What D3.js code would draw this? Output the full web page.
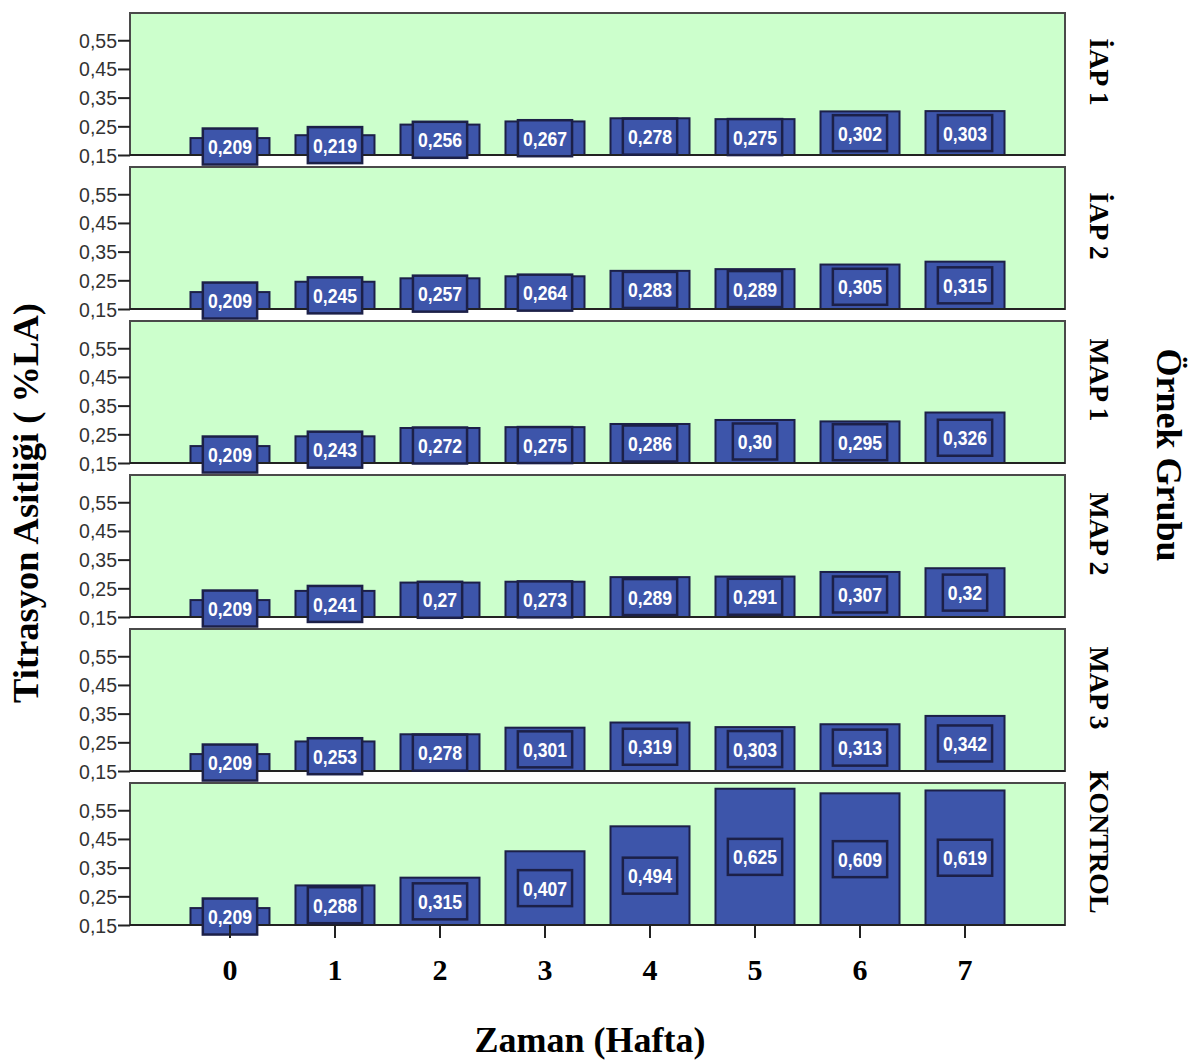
<!DOCTYPE html>
<html>
<head>
<meta charset="utf-8">
<script src="https://cdn.jsdelivr.net/npm/d3@7"></script>
<style>
  html, body { margin: 0; padding: 0; background: #ffffff; }
  svg { display: block; }
</style>
</head>
<body>
<div id="chart"></div>
<script>
// Weeks of storage (x categories)
const weeks = ["0", "1", "2", "3", "4", "5", "6", "7"];

// Sample groups, one panel each (top to bottom)
const groups = ["İAP 1", "İAP 2", "MAP 1", "MAP 2", "MAP 3", "KONTROL"];

// Titratable acidity (% LA) per week for each group
const iap1    = [0.209, 0.219, 0.256, 0.267, 0.278, 0.275, 0.302, 0.303];
const iap2    = [0.209, 0.245, 0.257, 0.264, 0.283, 0.289, 0.305, 0.315];
const map1    = [0.209, 0.243, 0.272, 0.275, 0.286, 0.300, 0.295, 0.326];
const map2    = [0.209, 0.241, 0.270, 0.273, 0.289, 0.291, 0.307, 0.320];
const map3    = [0.209, 0.253, 0.278, 0.301, 0.319, 0.303, 0.313, 0.342];
const kontrol = [0.209, 0.288, 0.315, 0.407, 0.494, 0.625, 0.609, 0.619];

const seriesByGroup = [iap1, iap2, map1, map2, map3, kontrol];

// Y axis tick values shared by all panels
const yTicks = [0.15, 0.25, 0.35, 0.45, 0.55];
const yMin = 0.15, yMax = 0.645;

const width = 1202, height = 1063;
const panelLeft = 130, panelRight = 1065;
const firstBase = 155, panelStep = 154, panelHeight = 142;

const C = {
  bg: "#ccffcc",
  bar: "#3d55aa",
  barStroke: "#1c2048",
  frame: "#4a4a4a",
  axis: "#222222"
};

const svg = d3.select("#chart").append("svg")
  .attr("width", width)
  .attr("height", height);

const x = d3.scaleBand()
  .domain(weeks)
  .range([panelLeft, panelRight])
  .paddingInner(0.2476)
  .paddingOuter(0.576);

// decimal comma, at least two decimals
const fmt = v => {
  let s = v.toFixed(3);
  if (s.endsWith("0")) s = s.slice(0, -1);
  return s.replace(".", ",");
};

const serif = "'Liberation Serif', 'Times New Roman', serif";
const sans = "'Liberation Sans', Arial, sans-serif";
const labelSqueeze = 0.84; // condensed look for the value labels

groups.forEach((g, gi) => {
  const base = firstBase + gi * panelStep;
  const top = base - panelHeight;
  const y = d3.scaleLinear().domain([yMin, yMax]).range([base, top]);
  const vals = seriesByGroup[gi];

  const panel = svg.append("g").attr("class", "panel");

  // panel background and frame
  panel.append("rect")
    .attr("x", panelLeft).attr("y", top)
    .attr("width", panelRight - panelLeft).attr("height", base - top)
    .attr("fill", C.bg)
    .attr("stroke", C.frame).attr("stroke-width", 2);

  // y axis
  const yAxis = d3.axisLeft(y)
    .tickValues(yTicks)
    .tickSize(12)
    .tickPadding(1)
    .tickFormat(d => d.toFixed(2).replace(".", ","));
  const ya = panel.append("g")
    .attr("transform", `translate(${panelLeft},0)`)
    .call(yAxis);
  ya.select(".domain").remove();
  ya.selectAll(".tick line").attr("stroke", C.axis).attr("stroke-width", 2);
  ya.selectAll(".tick text")
    .attr("fill", "#333")
    .style("font-family", sans)
    .style("font-size", "19.5px")
    .attr("dy", "0.36em");

  // bars
  panel.selectAll("rect.bar")
    .data(vals)
    .join("rect")
    .attr("class", "bar")
    .attr("x", (d, i) => x(weeks[i]))
    .attr("width", x.bandwidth())
    .attr("y", d => y(d))
    .attr("height", d => y(yMin) - y(d))
    .attr("fill", C.bar)
    .attr("stroke", C.barStroke)
    .attr("stroke-width", 2);

  // bottom baseline
  panel.append("line")
    .attr("x1", panelLeft).attr("x2", panelRight)
    .attr("y1", base).attr("y2", base)
    .attr("stroke", C.axis).attr("stroke-width", 2);

  // value labels in boxes centred on each bar
  const lab = panel.selectAll("g.lab")
    .data(vals)
    .join("g")
    .attr("class", "lab")
    .attr("transform", (d, i) =>
      `translate(${x(weeks[i]) + x.bandwidth() / 2},${(y(d) + y(yMin)) / 2})`);

  lab.append("text")
    .text(d => fmt(d))
    .attr("text-anchor", "middle")
    .attr("dy", "0.36em")
    .attr("transform", `scale(${labelSqueeze},1)`)
    .attr("fill", "#ffffff")
    .style("font-family", sans)
    .style("font-weight", "bold")
    .style("font-size", "21px");

  lab.each(function() {
    const gSel = d3.select(this);
    const bb = gSel.select("text").node().getBBox();
    const w = bb.width * labelSqueeze + 10;
    gSel.insert("rect", "text")
      .attr("x", -w / 2).attr("y", -18)
      .attr("width", w).attr("height", 36)
      .attr("fill", C.bar)
      .attr("stroke", C.barStroke)
      .attr("stroke-width", 2.5);
  });

  // group label on the right
  svg.append("text")
    .attr("transform", `translate(1090,${(top + base) / 2 - 12}) rotate(90)`)
    .attr("text-anchor", "middle")
    .attr("fill", "#000")
    .style("font-family", serif)
    .style("font-weight", "bold")
    .style("font-size", "28px")
    .text(g);

  // x axis under the last panel
  if (gi === groups.length - 1) {
    const xa = svg.append("g")
      .attr("transform", `translate(0,${base})`)
      .call(d3.axisBottom(x).tickSize(13).tickPadding(0));
    xa.select(".domain").remove();
    xa.selectAll(".tick line").attr("stroke", C.axis).attr("stroke-width", 2);
    xa.selectAll(".tick text")
      .attr("y", 55)
      .attr("dy", 0)
      .attr("fill", "#000")
      .style("font-family", serif)
      .style("font-weight", "bold")
      .style("font-size", "30px");
  }
});

// axis titles
svg.append("text")
  .attr("x", 590).attr("y", 1052)
  .attr("text-anchor", "middle")
  .style("font-family", serif)
  .style("font-weight", "bold")
  .style("font-size", "36px")
  .text("Zaman (Hafta)");

svg.append("text")
  .attr("transform", "translate(38,503) rotate(-90)")
  .attr("text-anchor", "middle")
  .style("font-family", serif)
  .style("font-weight", "bold")
  .style("font-size", "36.5px")
  .text("Titrasyon Asitliği ( %LA)");

svg.append("text")
  .attr("transform", "translate(1157,455) rotate(90)")
  .attr("text-anchor", "middle")
  .style("font-family", serif)
  .style("font-weight", "bold")
  .style("font-size", "36px")
  .text("Örnek Grubu");
</script>
</body>
</html>
